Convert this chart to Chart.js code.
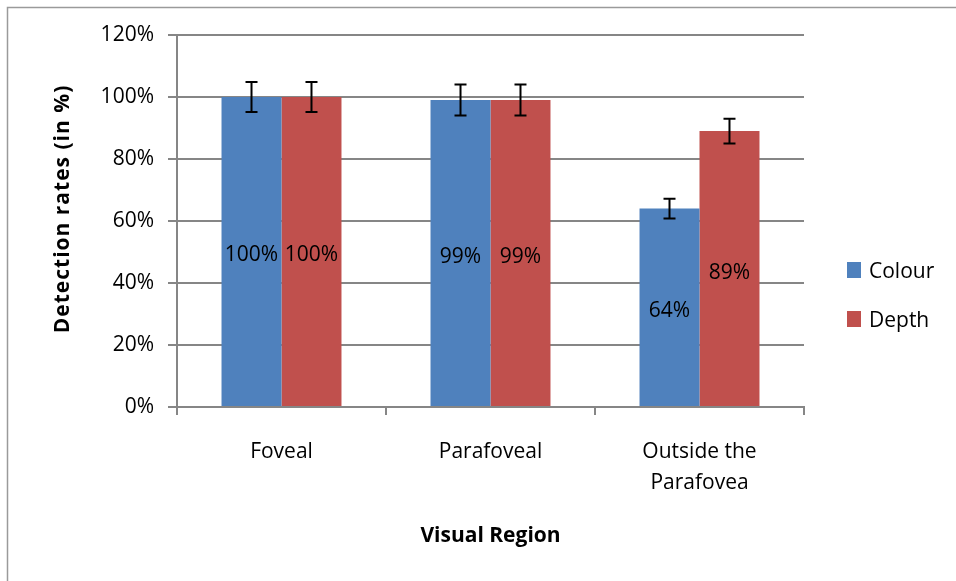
<!DOCTYPE html>
<html><head><meta charset="utf-8">
<script src="https://cdn.jsdelivr.net/npm/chart.js@4"></script>
<style>html,body{margin:0;padding:0;background:#fff;}#wrap{position:relative;width:956px;height:581px;}</style>
</head><body><div id="wrap"><canvas id="c" width="956" height="581"></canvas></div>
<script>
const categories = ['Foveal', 'Parafoveal', ['Outside the', 'Parafovea']];
const seriesNames = ['Colour', 'Depth'];
const colourValues = [100, 99, 64];
const depthValues = [100, 99, 89];
const colourErrors = [4.8, 5, 3.2];
const depthErrors = [4.8, 5, 4];
const yTicks = [0, 20, 40, 60, 80, 100, 120];
const xTitle = 'Visual Region';
const yTitle = 'Detection rates (in %)';

const FONT = '"Open Sans", Lato, sans-serif';
const errorsByDataset = [colourErrors, depthErrors];

const framePlugin = {
  id: 'frame',
  beforeDraw(chart) {
    const ctx = chart.ctx;
    ctx.save();
    ctx.fillStyle = '#fff';
    ctx.fillRect(0, 0, chart.width, chart.height);
    ctx.strokeStyle = '#9a9a9a';
    ctx.lineWidth = 1.5;
    ctx.beginPath();
    ctx.moveTo(7.5, chart.height);
    ctx.lineTo(7.5, 7.5);
    ctx.lineTo(chart.width, 7.5);
    ctx.stroke();
    ctx.restore();
  }
};

const errorBarPlugin = {
  id: 'errorBars',
  afterDatasetsDraw(chart) {
    const ctx = chart.ctx;
    const y = chart.scales.y;
    ctx.save();
    ctx.strokeStyle = '#000';
    ctx.lineWidth = 2;
    chart.data.datasets.forEach((ds, di) => {
      const meta = chart.getDatasetMeta(di);
      meta.data.forEach((bar, i) => {
        const v = ds.data[i], e = errorsByDataset[di][i];
        const yt = y.getPixelForValue(v + e), yb = y.getPixelForValue(v - e);
        ctx.beginPath();
        ctx.moveTo(bar.x, yt); ctx.lineTo(bar.x, yb);
        ctx.moveTo(bar.x - 6, yt); ctx.lineTo(bar.x + 6, yt);
        ctx.moveTo(bar.x - 6, yb); ctx.lineTo(bar.x + 6, yb);
        ctx.stroke();
      });
    });
    ctx.restore();
  }
};

const valueLabelPlugin = {
  id: 'valueLabels',
  afterDatasetsDraw(chart) {
    const ctx = chart.ctx;
    ctx.save();
    ctx.fillStyle = '#000';
    ctx.font = '21px ' + FONT;
    ctx.textAlign = 'center';
    ctx.textBaseline = 'middle';
    chart.data.datasets.forEach((ds, di) => {
      chart.getDatasetMeta(di).data.forEach((bar, i) => {
        ctx.fillText(ds.data[i] + '%', bar.x, (bar.y + bar.base) / 2 + 4);
      });
    });
    ctx.restore();
  }
};

const titlesAndLegendPlugin = {
  id: 'titlesLegend',
  afterDraw(chart) {
    const ctx = chart.ctx;
    const a = chart.chartArea;
    ctx.save();
    ctx.fillStyle = '#000';
    ctx.textAlign = 'center';
    ctx.textBaseline = 'middle';
    ctx.font = 'bold 21px ' + FONT;
    ctx.fillText(xTitle, (a.left + a.right) / 2, 536);
    ctx.translate(63, 209);
    ctx.rotate(-Math.PI / 2);
    ctx.letterSpacing = '1px';
    ctx.fillText(yTitle, 0, 0);
    ctx.restore();

    ctx.save();
    ctx.font = '21px ' + FONT;
    ctx.textBaseline = 'middle';
    ctx.textAlign = 'left';
    chart.data.datasets.forEach((ds, di) => {
      const cy = 270 + di * 49;
      ctx.fillStyle = ds.backgroundColor;
      ctx.fillRect(847, cy - 8, 14, 16);
      ctx.fillStyle = '#000';
      ctx.fillText(ds.label, 869, cy + 2);
    });
    ctx.restore();
  }
};

new Chart(document.getElementById('c'), {
  type: 'bar',
  data: {
    labels: categories,
    datasets: [
      { label: seriesNames[0], data: colourValues, backgroundColor: '#4F81BD', categoryPercentage: 0.574, barPercentage: 1.0 },
      { label: seriesNames[1], data: depthValues, backgroundColor: '#C0504D', categoryPercentage: 0.574, barPercentage: 1.0 }
    ]
  },
  options: {
    responsive: false,
    animation: false,
    devicePixelRatio: 1,
    layout: { padding: { top: 35, right: 152, left: 0, bottom: 0 } },
    plugins: { legend: { display: false }, tooltip: { enabled: false } },
    scales: {
      x: {
        afterFit(s) { s.height = 174; },
        grid: { drawOnChartArea: false, color: '#868686', lineWidth: 2, tickLength: 8, offset: true },
        border: { color: '#868686', width: 2 },
        ticks: { color: '#000', font: { family: FONT, size: 21, lineHeight: 1.48 }, padding: 21, maxRotation: 0 }
      },
      y: {
        min: 0, max: 120,
        afterFit(s) { s.width = 177; },
        afterBuildTicks(s) { s.ticks = yTicks.map(v => ({ value: v })); },
        grid: { color: '#868686', lineWidth: 2, tickLength: 9 },
        border: { color: '#868686', width: 2 },
        ticks: { color: '#000', font: { family: FONT, size: 21 }, padding: 14, callback: v => v + '%' }
      }
    }
  },
  plugins: [framePlugin, errorBarPlugin, valueLabelPlugin, titlesAndLegendPlugin]
});
</script></body></html>
